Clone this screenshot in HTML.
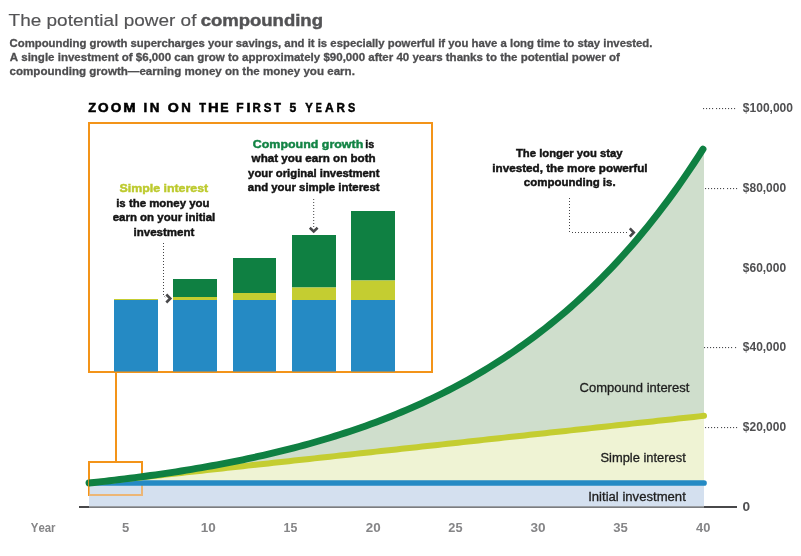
<!DOCTYPE html>
<html><head><meta charset="utf-8"><style>
html,body{margin:0;padding:0;background:#fff;width:801px;height:556px;overflow:hidden;}
svg{display:block;will-change:transform;}
text{font-family:"Liberation Sans", sans-serif;font-kerning:none;}
</style></head><body>
<svg width="801" height="556" viewBox="0 0 801 556">
<text x="8.57" y="25.8" font-size="17" font-weight="normal" fill="#535355" textLength="187.90" lengthAdjust="spacingAndGlyphs" stroke="#535355" stroke-width="0.15">The potential power of</text>
<text x="200.68" y="25.8" font-size="16.8" font-weight="bold" fill="#535355" textLength="122.26" lengthAdjust="spacingAndGlyphs" stroke="#535355" stroke-width="0.45">compounding</text>
<text x="9.53" y="47" font-size="11.6" font-weight="bold" fill="#4d4d4f" textLength="642.95" lengthAdjust="spacingAndGlyphs" stroke="#4d4d4f" stroke-width="0.3">Compounding growth supercharges your savings, and it is especially powerful if you have a long time to stay invested.</text>
<text x="9.71" y="61" font-size="11.6" font-weight="bold" fill="#4d4d4f" textLength="610.16" lengthAdjust="spacingAndGlyphs" stroke="#4d4d4f" stroke-width="0.3">A single investment of $6,000 can grow to approximately $90,000 after 40 years thanks to the potential power of</text>
<text x="9.55" y="75" font-size="11.6" font-weight="bold" fill="#4d4d4f" textLength="345.35" lengthAdjust="spacingAndGlyphs" stroke="#4d4d4f" stroke-width="0.3">compounding growth—earning money on the money you earn.</text>
<text x="88.27" y="111.6" font-size="12.3" font-weight="bold" fill="#000" textLength="7.85" lengthAdjust="spacingAndGlyphs" stroke="#000" stroke-width="0.5">Z</text>
<text x="97.99" y="111.6" font-size="12.3" font-weight="bold" fill="#000" textLength="10.63" lengthAdjust="spacingAndGlyphs" stroke="#000" stroke-width="0.5">O</text>
<text x="110.79" y="111.6" font-size="12.3" font-weight="bold" fill="#000" textLength="10.63" lengthAdjust="spacingAndGlyphs" stroke="#000" stroke-width="0.5">O</text>
<text x="123.26" y="111.6" font-size="12.3" font-weight="bold" fill="#000" textLength="12.39" lengthAdjust="spacingAndGlyphs" stroke="#000" stroke-width="0.5">M</text>
<text x="143.47" y="111.6" font-size="12.3" font-weight="bold" fill="#000" textLength="3.66" lengthAdjust="spacingAndGlyphs" stroke="#000" stroke-width="0.5">I</text>
<text x="149.85" y="111.6" font-size="12.3" font-weight="bold" fill="#000" textLength="9.70" lengthAdjust="spacingAndGlyphs" stroke="#000" stroke-width="0.5">N</text>
<text x="167.77" y="111.6" font-size="12.3" font-weight="bold" fill="#000" textLength="11.08" lengthAdjust="spacingAndGlyphs" stroke="#000" stroke-width="0.5">O</text>
<text x="181.36" y="111.6" font-size="12.3" font-weight="bold" fill="#000" textLength="9.58" lengthAdjust="spacingAndGlyphs" stroke="#000" stroke-width="0.5">N</text>
<text x="199.23" y="111.6" font-size="12.3" font-weight="bold" fill="#000" textLength="6.74" lengthAdjust="spacingAndGlyphs" stroke="#000" stroke-width="0.5">T</text>
<text x="207.96" y="111.6" font-size="12.3" font-weight="bold" fill="#000" textLength="10.69" lengthAdjust="spacingAndGlyphs" stroke="#000" stroke-width="0.5">H</text>
<text x="220.32" y="111.6" font-size="12.3" font-weight="bold" fill="#000" textLength="8.32" lengthAdjust="spacingAndGlyphs" stroke="#000" stroke-width="0.5">E</text>
<text x="236.25" y="111.6" font-size="12.3" font-weight="bold" fill="#000" textLength="7.34" lengthAdjust="spacingAndGlyphs" stroke="#000" stroke-width="0.5">F</text>
<text x="246.57" y="111.6" font-size="12.3" font-weight="bold" fill="#000" textLength="4.05" lengthAdjust="spacingAndGlyphs" stroke="#000" stroke-width="0.5">I</text>
<text x="252.48" y="111.6" font-size="12.3" font-weight="bold" fill="#000" textLength="8.31" lengthAdjust="spacingAndGlyphs" stroke="#000" stroke-width="0.5">R</text>
<text x="263.82" y="111.6" font-size="12.3" font-weight="bold" fill="#000" textLength="7.68" lengthAdjust="spacingAndGlyphs" stroke="#000" stroke-width="0.5">S</text>
<text x="273.92" y="111.6" font-size="12.3" font-weight="bold" fill="#000" textLength="6.95" lengthAdjust="spacingAndGlyphs" stroke="#000" stroke-width="0.5">T</text>
<text x="289.58" y="111.6" font-size="12.3" font-weight="bold" fill="#000" textLength="6.71" lengthAdjust="spacingAndGlyphs" stroke="#000" stroke-width="0.5">5</text>
<text x="305.16" y="111.6" font-size="12.3" font-weight="bold" fill="#000" textLength="7.47" lengthAdjust="spacingAndGlyphs" stroke="#000" stroke-width="0.5">Y</text>
<text x="315.74" y="111.6" font-size="12.3" font-weight="bold" fill="#000" textLength="6.06" lengthAdjust="spacingAndGlyphs" stroke="#000" stroke-width="0.5">E</text>
<text x="325.05" y="111.6" font-size="12.3" font-weight="bold" fill="#000" textLength="8.72" lengthAdjust="spacingAndGlyphs" stroke="#000" stroke-width="0.5">A</text>
<text x="336.57" y="111.6" font-size="12.3" font-weight="bold" fill="#000" textLength="8.42" lengthAdjust="spacingAndGlyphs" stroke="#000" stroke-width="0.5">R</text>
<text x="347.94" y="111.6" font-size="12.3" font-weight="bold" fill="#000" textLength="7.24" lengthAdjust="spacingAndGlyphs" stroke="#000" stroke-width="0.5">S</text>
<rect x="89" y="123" width="343" height="249" fill="none" stroke="#f39419" stroke-width="2"/>
<rect x="114" y="299" width="44" height="1" fill="#c4cd31"/>
<rect x="114" y="300" width="44" height="71.5" fill="#258ac4"/>
<rect x="173" y="279" width="44" height="18" fill="#0f8042"/>
<rect x="173" y="297" width="44" height="3" fill="#c4cd31"/>
<rect x="173" y="300" width="44" height="71.5" fill="#258ac4"/>
<rect x="233" y="258" width="43" height="35" fill="#0f8042"/>
<rect x="233" y="293" width="43" height="7" fill="#c4cd31"/>
<rect x="233" y="300" width="43" height="71.5" fill="#258ac4"/>
<rect x="292" y="235" width="44" height="52.5" fill="#0f8042"/>
<rect x="292" y="287.5" width="44" height="12.5" fill="#c4cd31"/>
<rect x="292" y="300" width="44" height="71.5" fill="#258ac4"/>
<rect x="351" y="211" width="44" height="69.5" fill="#0f8042"/>
<rect x="351" y="280.5" width="44" height="19.5" fill="#c4cd31"/>
<rect x="351" y="300" width="44" height="71.5" fill="#258ac4"/>
<rect x="88" y="461" width="55" height="2" fill="#f39419"/>
<rect x="88" y="461" width="2" height="35" fill="#f39419"/>
<rect x="141" y="461" width="2" height="35" fill="#f39419"/>
<rect x="88" y="494" width="55" height="2" fill="#f39419"/>
<rect x="115" y="373" width="2" height="89" fill="#f39419"/>
<rect x="89.0" y="483.0" width="615.0" height="24.0" fill="#d4e0ef"/>
<polygon points="89.00,483.00 94.12,482.44 99.25,481.88 104.38,481.32 109.50,480.76 114.62,480.20 119.75,479.64 124.88,479.08 130.00,478.52 135.12,477.96 140.25,477.40 145.38,476.84 150.50,476.28 155.62,475.72 160.75,475.16 165.88,474.60 171.00,474.04 176.12,473.48 181.25,472.92 186.38,472.36 191.50,471.80 196.62,471.24 201.75,470.68 206.88,470.12 212.00,469.56 217.12,469.00 222.25,468.44 227.38,467.88 232.50,467.32 237.62,466.76 242.75,466.20 247.88,465.64 253.00,465.08 258.12,464.52 263.25,463.96 268.38,463.40 273.50,462.84 278.62,462.28 283.75,461.72 288.88,461.16 294.00,460.60 299.12,460.04 304.25,459.48 309.38,458.92 314.50,458.36 319.62,457.80 324.75,457.24 329.88,456.68 335.00,456.12 340.12,455.56 345.25,455.00 350.38,454.44 355.50,453.88 360.62,453.32 365.75,452.76 370.88,452.20 376.00,451.64 381.12,451.08 386.25,450.52 391.38,449.96 396.50,449.40 401.62,448.84 406.75,448.28 411.88,447.72 417.00,447.16 422.12,446.60 427.25,446.04 432.38,445.48 437.50,444.92 442.62,444.36 447.75,443.80 452.88,443.24 458.00,442.68 463.12,442.12 468.25,441.56 473.38,441.00 478.50,440.44 483.62,439.88 488.75,439.32 493.88,438.76 499.00,438.20 504.12,437.64 509.25,437.08 514.38,436.52 519.50,435.96 524.62,435.40 529.75,434.84 534.88,434.28 540.00,433.72 545.12,433.16 550.25,432.60 555.38,432.04 560.50,431.48 565.62,430.92 570.75,430.36 575.88,429.80 581.00,429.24 586.12,428.68 591.25,428.12 596.38,427.56 601.50,427.00 606.62,426.44 611.75,425.88 616.88,425.32 622.00,424.76 627.12,424.20 632.25,423.64 637.38,423.08 642.50,422.52 647.62,421.96 652.75,421.40 657.88,420.84 663.00,420.28 668.12,419.72 673.25,419.16 678.38,418.60 683.50,418.04 688.62,417.48 693.75,416.92 698.88,416.36 704.00,415.80 704.0,483.0 89.0,483.0" fill="#eff3d4"/>
<polygon points="89.00,483.00 94.12,482.45 99.25,481.89 104.38,481.32 109.50,480.73 114.62,480.14 119.75,479.52 124.88,478.90 130.00,478.25 135.12,477.60 140.25,476.93 145.38,476.24 150.50,475.54 155.62,474.82 160.75,474.09 165.88,473.34 171.00,472.57 176.12,471.79 181.25,470.98 186.38,470.16 191.50,469.32 196.62,468.46 201.75,467.58 206.88,466.68 212.00,465.76 217.12,464.82 222.25,463.86 227.38,462.88 232.50,461.87 237.62,460.84 242.75,459.79 247.88,458.71 253.00,457.61 258.12,456.48 263.25,455.33 268.38,454.15 273.50,452.95 278.62,451.71 283.75,450.45 288.88,449.16 294.00,447.84 299.12,446.50 304.25,445.12 309.38,443.70 314.50,442.26 319.62,440.78 324.75,439.27 329.88,437.73 335.00,436.15 340.12,434.53 345.25,432.88 350.38,431.19 355.50,429.46 360.62,427.69 365.75,425.88 370.88,424.03 376.00,422.14 381.12,420.20 386.25,418.22 391.38,416.20 396.50,414.13 401.62,412.01 406.75,409.84 411.88,407.63 417.00,405.36 422.12,403.04 427.25,400.67 432.38,398.25 437.50,395.76 442.62,393.23 447.75,390.63 452.88,387.98 458.00,385.26 463.12,382.49 468.25,379.65 473.38,376.74 478.50,373.77 483.62,370.73 488.75,367.62 493.88,364.44 499.00,361.19 504.12,357.87 509.25,354.47 514.38,350.99 519.50,347.43 524.62,343.79 529.75,340.07 534.88,336.26 540.00,332.36 545.12,328.38 550.25,324.31 555.38,320.14 560.50,315.88 565.62,311.52 570.75,307.06 575.88,302.50 581.00,297.83 586.12,293.06 591.25,288.18 596.38,283.19 601.50,278.09 606.62,272.87 611.75,267.53 616.88,262.06 622.00,256.48 627.12,250.76 632.25,244.92 637.38,238.94 642.50,232.83 647.62,226.57 652.75,220.18 657.88,213.63 663.00,206.94 668.12,200.10 673.25,193.10 678.38,185.94 683.50,178.61 688.62,171.12 693.75,163.46 698.88,155.63 704.00,147.61 704.00,415.80 698.88,416.36 693.75,416.92 688.62,417.48 683.50,418.04 678.38,418.60 673.25,419.16 668.12,419.72 663.00,420.28 657.88,420.84 652.75,421.40 647.62,421.96 642.50,422.52 637.38,423.08 632.25,423.64 627.12,424.20 622.00,424.76 616.88,425.32 611.75,425.88 606.62,426.44 601.50,427.00 596.38,427.56 591.25,428.12 586.12,428.68 581.00,429.24 575.88,429.80 570.75,430.36 565.62,430.92 560.50,431.48 555.38,432.04 550.25,432.60 545.12,433.16 540.00,433.72 534.88,434.28 529.75,434.84 524.62,435.40 519.50,435.96 514.38,436.52 509.25,437.08 504.12,437.64 499.00,438.20 493.88,438.76 488.75,439.32 483.62,439.88 478.50,440.44 473.38,441.00 468.25,441.56 463.12,442.12 458.00,442.68 452.88,443.24 447.75,443.80 442.62,444.36 437.50,444.92 432.38,445.48 427.25,446.04 422.12,446.60 417.00,447.16 411.88,447.72 406.75,448.28 401.62,448.84 396.50,449.40 391.38,449.96 386.25,450.52 381.12,451.08 376.00,451.64 370.88,452.20 365.75,452.76 360.62,453.32 355.50,453.88 350.38,454.44 345.25,455.00 340.12,455.56 335.00,456.12 329.88,456.68 324.75,457.24 319.62,457.80 314.50,458.36 309.38,458.92 304.25,459.48 299.12,460.04 294.00,460.60 288.88,461.16 283.75,461.72 278.62,462.28 273.50,462.84 268.38,463.40 263.25,463.96 258.12,464.52 253.00,465.08 247.88,465.64 242.75,466.20 237.62,466.76 232.50,467.32 227.38,467.88 222.25,468.44 217.12,469.00 212.00,469.56 206.88,470.12 201.75,470.68 196.62,471.24 191.50,471.80 186.38,472.36 181.25,472.92 176.12,473.48 171.00,474.04 165.88,474.60 160.75,475.16 155.62,475.72 150.50,476.28 145.38,476.84 140.25,477.40 135.12,477.96 130.00,478.52 124.88,479.08 119.75,479.64 114.62,480.20 109.50,480.76 104.38,481.32 99.25,481.88 94.12,482.44 89.00,483.00" fill="#cfdecc"/>
<rect x="79" y="506" width="10.0" height="2" fill="#48484a"/>
<rect x="89.0" y="506" width="615.0" height="1" fill="#9a9ea3"/>
<rect x="89.0" y="507" width="615.0" height="1" fill="#7b7d80"/>
<rect x="704.0" y="506" width="33.0" height="2" fill="#48484a"/>
<rect x="89" y="494" width="54" height="2" fill="#ecb676"/>
<rect x="89" y="485" width="1" height="11" fill="#ecb676"/>
<rect x="141" y="485" width="2" height="11" fill="#ecb676"/>
<line x1="89.0" y1="483.0" x2="704.0" y2="483.0" stroke="#258ac4" stroke-width="5.7" stroke-linecap="round"/>
<polyline points="89.00,483.00 94.12,482.44 99.25,481.88 104.38,481.32 109.50,480.76 114.62,480.20 119.75,479.64 124.88,479.08 130.00,478.52 135.12,477.96 140.25,477.40 145.38,476.84 150.50,476.28 155.62,475.72 160.75,475.16 165.88,474.60 171.00,474.04 176.12,473.48 181.25,472.92 186.38,472.36 191.50,471.80 196.62,471.24 201.75,470.68 206.88,470.12 212.00,469.56 217.12,469.00 222.25,468.44 227.38,467.88 232.50,467.32 237.62,466.76 242.75,466.20 247.88,465.64 253.00,465.08 258.12,464.52 263.25,463.96 268.38,463.40 273.50,462.84 278.62,462.28 283.75,461.72 288.88,461.16 294.00,460.60 299.12,460.04 304.25,459.48 309.38,458.92 314.50,458.36 319.62,457.80 324.75,457.24 329.88,456.68 335.00,456.12 340.12,455.56 345.25,455.00 350.38,454.44 355.50,453.88 360.62,453.32 365.75,452.76 370.88,452.20 376.00,451.64 381.12,451.08 386.25,450.52 391.38,449.96 396.50,449.40 401.62,448.84 406.75,448.28 411.88,447.72 417.00,447.16 422.12,446.60 427.25,446.04 432.38,445.48 437.50,444.92 442.62,444.36 447.75,443.80 452.88,443.24 458.00,442.68 463.12,442.12 468.25,441.56 473.38,441.00 478.50,440.44 483.62,439.88 488.75,439.32 493.88,438.76 499.00,438.20 504.12,437.64 509.25,437.08 514.38,436.52 519.50,435.96 524.62,435.40 529.75,434.84 534.88,434.28 540.00,433.72 545.12,433.16 550.25,432.60 555.38,432.04 560.50,431.48 565.62,430.92 570.75,430.36 575.88,429.80 581.00,429.24 586.12,428.68 591.25,428.12 596.38,427.56 601.50,427.00 606.62,426.44 611.75,425.88 616.88,425.32 622.00,424.76 627.12,424.20 632.25,423.64 637.38,423.08 642.50,422.52 647.62,421.96 652.75,421.40 657.88,420.84 663.00,420.28 668.12,419.72 673.25,419.16 678.38,418.60 683.50,418.04 688.62,417.48 693.75,416.92 698.88,416.36 704.00,415.80" fill="none" stroke="#c4cd31" stroke-width="6" stroke-linecap="round"/>
<polyline points="89.00,483.00 94.12,482.45 99.25,481.89 104.38,481.32 109.50,480.73 114.62,480.14 119.75,479.52 124.88,478.90 130.00,478.25 135.12,477.60 140.25,476.93 145.38,476.24 150.50,475.54 155.62,474.82 160.75,474.09 165.88,473.34 171.00,472.57 176.12,471.79 181.25,470.98 186.38,470.16 191.50,469.32 196.62,468.46 201.75,467.58 206.88,466.68 212.00,465.76 217.12,464.82 222.25,463.86 227.38,462.88 232.50,461.87 237.62,460.84 242.75,459.79 247.88,458.71 253.00,457.61 258.12,456.48 263.25,455.33 268.38,454.15 273.50,452.95 278.62,451.71 283.75,450.45 288.88,449.16 294.00,447.84 299.12,446.50 304.25,445.12 309.38,443.70 314.50,442.26 319.62,440.78 324.75,439.27 329.88,437.73 335.00,436.15 340.12,434.53 345.25,432.88 350.38,431.19 355.50,429.46 360.62,427.69 365.75,425.88 370.88,424.03 376.00,422.14 381.12,420.20 386.25,418.22 391.38,416.20 396.50,414.13 401.62,412.01 406.75,409.84 411.88,407.63 417.00,405.36 422.12,403.04 427.25,400.67 432.38,398.25 437.50,395.76 442.62,393.23 447.75,390.63 452.88,387.98 458.00,385.26 463.12,382.49 468.25,379.65 473.38,376.74 478.50,373.77 483.62,370.73 488.75,367.62 493.88,364.44 499.00,361.19 504.12,357.87 509.25,354.47 514.38,350.99 519.50,347.43 524.62,343.79 529.75,340.07 534.88,336.26 540.00,332.36 545.12,328.38 550.25,324.31 555.38,320.14 560.50,315.88 565.62,311.52 570.75,307.06 575.88,302.50 581.00,297.83 586.12,293.06 591.25,288.18 596.38,283.19 601.50,278.09 606.62,272.87 611.75,267.53 616.88,262.06 622.00,256.48 627.12,250.76 632.25,244.92 637.38,238.94 642.50,232.83 647.62,226.57 652.75,220.18 657.88,213.63 663.00,206.94 668.12,200.10 673.25,193.10 678.38,185.94 683.50,178.61 688.62,171.12 693.75,163.46 698.88,155.63 703.00,149.19" fill="none" stroke="#0f8042" stroke-width="6.9" stroke-linecap="round" stroke-linejoin="round"/>
<rect x="88" y="476" width="1" height="12" fill="#f39419" opacity="0.8"/>
<rect x="703" y="108" width="1.1" height="1.1" fill="#4a4a4c"/>
<rect x="706" y="108" width="1.1" height="1.1" fill="#4a4a4c"/>
<rect x="709" y="108" width="1.1" height="1.1" fill="#4a4a4c"/>
<rect x="712" y="108" width="1.1" height="1.1" fill="#4a4a4c"/>
<rect x="716" y="108" width="1.1" height="1.1" fill="#4a4a4c"/>
<rect x="719" y="108" width="1.1" height="1.1" fill="#4a4a4c"/>
<rect x="722" y="108" width="1.1" height="1.1" fill="#4a4a4c"/>
<rect x="725" y="108" width="1.1" height="1.1" fill="#4a4a4c"/>
<rect x="728" y="108" width="1.1" height="1.1" fill="#4a4a4c"/>
<rect x="731" y="108" width="1.1" height="1.1" fill="#4a4a4c"/>
<rect x="734" y="108" width="1.1" height="1.1" fill="#4a4a4c"/>
<rect x="705" y="188" width="1.1" height="1.1" fill="#4a4a4c"/>
<rect x="708" y="188" width="1.1" height="1.1" fill="#4a4a4c"/>
<rect x="711" y="188" width="1.1" height="1.1" fill="#4a4a4c"/>
<rect x="714" y="188" width="1.1" height="1.1" fill="#4a4a4c"/>
<rect x="717" y="188" width="1.1" height="1.1" fill="#4a4a4c"/>
<rect x="720" y="188" width="1.1" height="1.1" fill="#4a4a4c"/>
<rect x="723" y="188" width="1.1" height="1.1" fill="#4a4a4c"/>
<rect x="727" y="188" width="1.1" height="1.1" fill="#4a4a4c"/>
<rect x="730" y="188" width="1.1" height="1.1" fill="#4a4a4c"/>
<rect x="733" y="188" width="1.1" height="1.1" fill="#4a4a4c"/>
<rect x="736" y="188" width="1.1" height="1.1" fill="#4a4a4c"/>
<rect x="704" y="347" width="1.1" height="1.1" fill="#4a4a4c"/>
<rect x="707" y="347" width="1.1" height="1.1" fill="#4a4a4c"/>
<rect x="710" y="347" width="1.1" height="1.1" fill="#4a4a4c"/>
<rect x="713" y="347" width="1.1" height="1.1" fill="#4a4a4c"/>
<rect x="716" y="347" width="1.1" height="1.1" fill="#4a4a4c"/>
<rect x="719" y="347" width="1.1" height="1.1" fill="#4a4a4c"/>
<rect x="722" y="347" width="1.1" height="1.1" fill="#4a4a4c"/>
<rect x="725" y="347" width="1.1" height="1.1" fill="#4a4a4c"/>
<rect x="728" y="347" width="1.1" height="1.1" fill="#4a4a4c"/>
<rect x="731" y="347" width="1.1" height="1.1" fill="#4a4a4c"/>
<rect x="735" y="347" width="1.1" height="1.1" fill="#4a4a4c"/>
<rect x="705" y="427" width="1.1" height="1.1" fill="#4a4a4c"/>
<rect x="708" y="427" width="1.1" height="1.1" fill="#4a4a4c"/>
<rect x="711" y="427" width="1.1" height="1.1" fill="#4a4a4c"/>
<rect x="714" y="427" width="1.1" height="1.1" fill="#4a4a4c"/>
<rect x="717" y="427" width="1.1" height="1.1" fill="#4a4a4c"/>
<rect x="721" y="427" width="1.1" height="1.1" fill="#4a4a4c"/>
<rect x="724" y="427" width="1.1" height="1.1" fill="#4a4a4c"/>
<rect x="727" y="427" width="1.1" height="1.1" fill="#4a4a4c"/>
<rect x="730" y="427" width="1.1" height="1.1" fill="#4a4a4c"/>
<rect x="733" y="427" width="1.1" height="1.1" fill="#4a4a4c"/>
<rect x="736" y="427" width="1.1" height="1.1" fill="#4a4a4c"/>
<text x="742.84" y="112.0" font-size="12" font-weight="bold" fill="#4f4f51" textLength="50.15" lengthAdjust="spacingAndGlyphs">$100,000</text>
<text x="742.84" y="192.0" font-size="12" font-weight="bold" fill="#4f4f51" textLength="43.25" lengthAdjust="spacingAndGlyphs">$80,000</text>
<text x="742.84" y="271.5" font-size="12" font-weight="bold" fill="#4f4f51" textLength="43.25" lengthAdjust="spacingAndGlyphs">$60,000</text>
<text x="742.84" y="351.0" font-size="12" font-weight="bold" fill="#4f4f51" textLength="43.25" lengthAdjust="spacingAndGlyphs">$40,000</text>
<text x="742.84" y="431.0" font-size="12" font-weight="bold" fill="#4f4f51" textLength="43.25" lengthAdjust="spacingAndGlyphs">$20,000</text>
<text x="742.46" y="510.5" font-size="12" font-weight="bold" fill="#4f4f51" textLength="7.60" lengthAdjust="spacingAndGlyphs">0</text>
<text x="30.80" y="532" font-size="12" font-weight="bold" fill="#858587" textLength="24.77" lengthAdjust="spacingAndGlyphs">Year</text>
<text x="121.90" y="532" font-size="12" font-weight="bold" fill="#858587" textLength="7.27" lengthAdjust="spacingAndGlyphs">5</text>
<text x="200.85" y="532" font-size="12" font-weight="bold" fill="#858587" textLength="15.00" lengthAdjust="spacingAndGlyphs">10</text>
<text x="283.62" y="532" font-size="12" font-weight="bold" fill="#858587" textLength="13.72" lengthAdjust="spacingAndGlyphs">15</text>
<text x="365.74" y="532" font-size="12" font-weight="bold" fill="#858587" textLength="14.91" lengthAdjust="spacingAndGlyphs">20</text>
<text x="448.36" y="532" font-size="12" font-weight="bold" fill="#858587" textLength="14.20" lengthAdjust="spacingAndGlyphs">25</text>
<text x="530.59" y="532" font-size="12" font-weight="bold" fill="#858587" textLength="15.07" lengthAdjust="spacingAndGlyphs">30</text>
<text x="613.20" y="532" font-size="12" font-weight="bold" fill="#858587" textLength="14.56" lengthAdjust="spacingAndGlyphs">35</text>
<text x="696.11" y="532" font-size="12" font-weight="bold" fill="#858587" textLength="14.32" lengthAdjust="spacingAndGlyphs">40</text>
<text x="579.54" y="391.8" font-size="12.5" font-weight="normal" fill="#1e1e1e" textLength="109.75" lengthAdjust="spacingAndGlyphs" stroke="#1e1e1e" stroke-width="0.3">Compound interest</text>
<text x="600.51" y="461.6" font-size="12.5" font-weight="normal" fill="#1e1e1e" textLength="85.28" lengthAdjust="spacingAndGlyphs" stroke="#1e1e1e" stroke-width="0.3">Simple interest</text>
<text x="588.19" y="501" font-size="12.5" font-weight="normal" fill="#1e1e1e" textLength="97.61" lengthAdjust="spacingAndGlyphs" stroke="#1e1e1e" stroke-width="0.3">Initial investment</text>
<text x="515.97" y="156.9" font-size="11.6" font-weight="bold" fill="#141414" textLength="106.59" lengthAdjust="spacingAndGlyphs" stroke="#111" stroke-width="0.45">The longer you stay</text>
<text x="492.28" y="171.7" font-size="11.6" font-weight="bold" fill="#141414" textLength="155.34" lengthAdjust="spacingAndGlyphs" stroke="#111" stroke-width="0.45">invested, the more powerful</text>
<text x="523.85" y="186" font-size="11.6" font-weight="bold" fill="#141414" textLength="91.74" lengthAdjust="spacingAndGlyphs" stroke="#111" stroke-width="0.45">compounding is.</text>
<text x="119.54" y="191.7" font-size="11.6" font-weight="bold" fill="#bdca2e" textLength="88.61" lengthAdjust="spacingAndGlyphs" stroke="#bdca2e" stroke-width="0.45">Simple interest</text>
<text x="116.20" y="206.5" font-size="11.6" font-weight="bold" fill="#141414" textLength="93.35" lengthAdjust="spacingAndGlyphs" stroke="#111" stroke-width="0.45">is the money you</text>
<text x="112.75" y="221" font-size="11.6" font-weight="bold" fill="#141414" textLength="102.46" lengthAdjust="spacingAndGlyphs" stroke="#111" stroke-width="0.45">earn on your initial</text>
<text x="133.50" y="235.6" font-size="11.6" font-weight="bold" fill="#141414" textLength="60.85" lengthAdjust="spacingAndGlyphs" stroke="#111" stroke-width="0.45">investment</text>
<text x="252.79" y="147.9" font-size="11.6" font-weight="bold" fill="#138445" textLength="110.48" lengthAdjust="spacingAndGlyphs" stroke="#138445" stroke-width="0.45">Compound growth</text>
<text x="365.25" y="147.9" font-size="11.6" font-weight="bold" fill="#141414" textLength="9.00" lengthAdjust="spacingAndGlyphs" stroke="#111" stroke-width="0.45">is</text>
<text x="251.63" y="161.9" font-size="11.6" font-weight="bold" fill="#141414" textLength="124.09" lengthAdjust="spacingAndGlyphs" stroke="#111" stroke-width="0.45">what you earn on both</text>
<text x="248.11" y="176.8" font-size="11.6" font-weight="bold" fill="#141414" textLength="131.43" lengthAdjust="spacingAndGlyphs" stroke="#111" stroke-width="0.45">your original investment</text>
<text x="247.87" y="190.8" font-size="11.6" font-weight="bold" fill="#141414" textLength="131.67" lengthAdjust="spacingAndGlyphs" stroke="#111" stroke-width="0.45">and your simple interest</text>
<path d="M163.5 243 V295" stroke="#444446" stroke-width="1" stroke-dasharray="1 2" fill="none"/>
<path d="M164.5 296.5 L165.5 297.5" stroke="#444446" stroke-width="1" stroke-dasharray="1 2" fill="none"/>
<path d="M166.3 294.5 L170.3 298.5 L166.3 302.5" stroke="#48484a" stroke-width="2.6" fill="none" stroke-linecap="butt" stroke-linejoin="miter"/>
<path d="M313.7 199 V228" stroke="#444446" stroke-width="1" stroke-dasharray="1 2" fill="none"/>
<path d="M309.8 227.8 L313.7 231.4 L317.6 227.8" stroke="#48484a" stroke-width="2.6" fill="none" stroke-linecap="butt" stroke-linejoin="miter"/>
<path d="M569.5 198 V233" stroke="#444446" stroke-width="1" stroke-dasharray="1 2" fill="none"/>
<path d="M572 232.5 H629" stroke="#444446" stroke-width="1" stroke-dasharray="1 2" fill="none"/>
<path d="M629.8 228.3 L633.8 232.5 L629.8 236.7" stroke="#48484a" stroke-width="2.6" fill="none" stroke-linecap="butt" stroke-linejoin="miter"/>
</svg>
</body></html>
